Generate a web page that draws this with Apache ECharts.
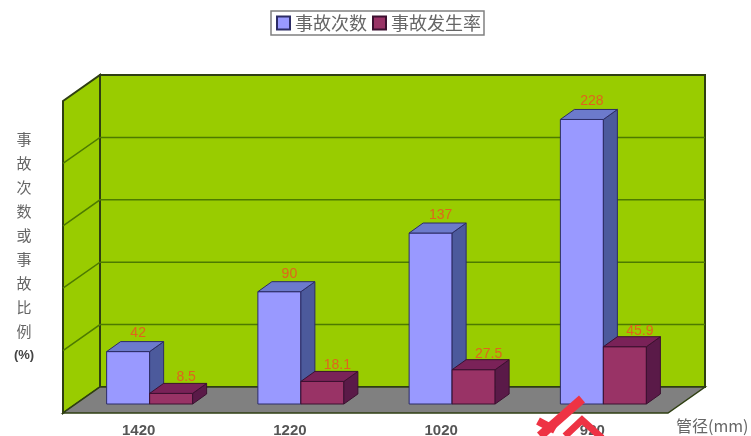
<!DOCTYPE html>
<html><head><meta charset="utf-8">
<style>html,body{margin:0;padding:0;background:#fff}#c{width:751px;height:436px;filter:blur(0.6px)}</style>
<script src="https://cdn.jsdelivr.net/npm/echarts@6/dist/echarts.min.js"></script>
</head><body><div id="c"></div>
<script>
const categories = ['1420', '1220', '1020', '920'];
const accidentCounts = [42, 90, 137, 228];
const accidentRates = [8.5, 18.1, 27.5, 45.9];
const gridValues = [0, 50, 100, 150, 200, 250];
const countLabels = ['42', '90', '137', '228'];
const rateLabels = ['8.5', '18.1', '27.5', '45.9'];

const WALL = [37, -26], FRONT = [11, -9], BAR = [14, -10], BAR_W = 43;
const GREEN = '#99cc00', EDGE = '#2f3f12';
const CJK = '"Noto Sans CJK SC",sans-serif';
const STAMP = '#ee3344';

function poly(points, fill, stroke, lw) {
  return { type: 'polygon', shape: { points }, style: { fill, stroke: stroke || 'none', lineWidth: lw || 1 } };
}
function backdrop(params, api) {
  const g = params.coordSys, L = g.x, R = g.x + g.width;
  const y0 = api.coord([0, 0])[1], yT = api.coord([0, 250])[1];
  const dx = WALL[0], dy = WALL[1];
  const kids = [
    poly([[L + dx, yT + dy], [R + dx, yT + dy], [R + dx, y0 + dy], [L + dx, y0 + dy]], GREEN, EDGE, 2),
    poly([[L, yT], [L + dx, yT + dy], [L + dx, y0 + dy], [L, y0]], GREEN, EDGE, 2),
    poly([[L, y0], [L + dx, y0 + dy], [R + dx, y0 + dy], [R, y0]], '#808080', EDGE, 1.5)
  ];
  gridValues.slice(1, -1).forEach(v => {
    const y = api.coord([0, v])[1];
    kids.push({ type: 'polyline', shape: { points: [[L, y], [L + dx, y + dy], [R + dx, y + dy]] },
      style: { fill: 'none', stroke: '#4d7a00', lineWidth: 1.5 } });
  });
  return { type: 'group', children: kids };
}
function bar3d(side, colors, labels, lx, ly) {
  return function (params, api) {
    const i = api.value(0), v = api.value(1);
    const c = api.coord([i, v]), b = api.coord([i, 0]);
    const x0 = c[0] + FRONT[0] + (side < 0 ? -BAR_W : 0), x1 = x0 + BAR_W;
    const yt = c[1] + FRONT[1], yb = b[1] + FRONT[1];
    const dx = BAR[0], dy = BAR[1];
    return { type: 'group', children: [
      poly([[x0, yt], [x1, yt], [x1, yb], [x0, yb]], colors[0], colors[3]),
      poly([[x1, yt], [x1 + dx, yt + dy], [x1 + dx, yb + dy], [x1, yb]], colors[1], colors[3]),
      poly([[x0, yt], [x0 + dx, yt + dy], [x1 + dx, yt + dy], [x1, yt]], colors[2], colors[3]),
      { type: 'text', x: (x0 + x1) / 2 + lx, y: yt + dy + ly,
        style: { text: labels[params.dataIndex], fill: '#e0641c', font: '14px "Liberation Sans"', align: 'center', verticalAlign: 'middle' } }
    ] };
  };
}
const chart = echarts.init(document.getElementById('c'), null, { renderer: 'canvas' });
chart.setOption({
  backgroundColor: '#fff', animation: false,
  title: {
    text: '事\n故\n次\n数\n或\n事\n故\n比\n例\n{b|(%)}', left: 19, top: 122, textAlign: 'center',
    textStyle: {
      fontSize: 15, fontWeight: 'normal', lineHeight: 24, color: '#666', fontFamily: CJK,
      rich: { b: { fontSize: 13, fontWeight: 'bold', lineHeight: 24, color: '#444', fontFamily: '"Liberation Sans"' } }
    }
  },
  legend: {
    left: 271, top: 11, padding: [3, 3, 3, 5], itemWidth: 13, itemHeight: 13, itemGap: 5, icon: 'rect',
    borderColor: '#808080', borderWidth: 1.5,
    textStyle: { fontFamily: CJK, fontSize: 18, color: '#666' },
    data: ['事故次数', '事故发生率']
  },
  grid: { left: 63, top: 101, width: 605, height: 312, outerBoundsMode: 'none' },
  xAxis: {
    type: 'category', data: categories,
    axisLine: { show: false }, axisTick: { show: false },
    axisLabel: { margin: 10, fontSize: 15, fontWeight: 'bold', color: '#555', fontFamily: '"Liberation Sans"' },
    name: '管径(mm)', nameLocation: 'end', nameGap: 8,
    nameTextStyle: { fontSize: 16, color: '#666', fontFamily: CJK, verticalAlign: 'top', padding: [5, 0, 0, 0] }
  },
  yAxis: {
    type: 'value', min: 0, max: 250, interval: 50,
    axisLine: { show: false }, axisTick: { show: false }, axisLabel: { show: false }, splitLine: { show: false }
  },
  series: [
    { type: 'custom', silent: true, z: 1, data: [[0]], renderItem: backdrop, encode: { x: 0 }, legendHoverLink: false, tooltip: { show: false } },
    { type: 'custom', name: '事故次数', z: 2, itemStyle: { color: '#9999ff', borderColor: '#2c2c66', borderWidth: 1 },
      data: accidentCounts.map((v, i) => [i, v]), encode: { x: 0, y: 1 },
      renderItem: bar3d(-1, ['#9999ff', '#4c5a9c', '#6c7acc', '#2c2c66'], countLabels, 10, -8) },
    { type: 'custom', name: '事故发生率', z: 3, itemStyle: { color: '#993366', borderColor: '#3c1030', borderWidth: 1 },
      data: accidentRates.map((v, i) => [i, v]), encode: { x: 0, y: 1 },
      renderItem: bar3d(1, ['#993366', '#5a1a48', '#7a2258', '#3c1030'], rateLabels, 15, -6) }
  ],
  graphic: [
    { type: 'polyline', z: 50, shape: { points: [[582, 399], [540, 436]] }, style: { fill: 'none', stroke: STAMP, lineWidth: 9 } },
    { type: 'polyline', z: 50, shape: { points: [[538, 421], [555, 430]] }, style: { fill: 'none', stroke: STAMP, lineWidth: 8 } },
    { type: 'polyline', z: 50, shape: { points: [[565, 436], [582, 420], [602, 438]] }, style: { fill: 'none', stroke: STAMP, lineWidth: 7 } }
  ]
});
</script></body></html>
